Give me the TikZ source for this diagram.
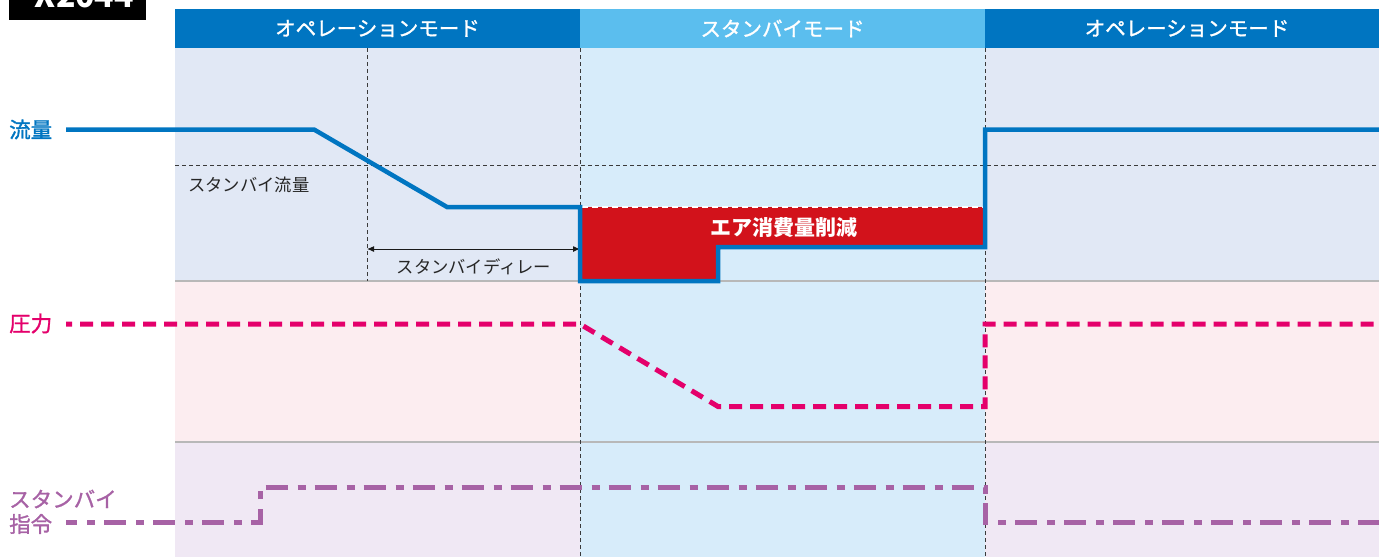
\documentclass[tikz,border=0pt]{standalone}
\usepackage{fontspec}
\setmainfont{Noto Sans CJK JP}
\newfontfamily\medfont[FakeBold=1.3]{Noto Sans CJK JP}
\usetikzlibrary{arrows.meta}
\definecolor{opblue}{HTML}{0075C1}
\definecolor{sbblue}{HTML}{5BBEEE}
\definecolor{flowbg}{HTML}{E1E8F5}
\definecolor{sbbg}{HTML}{D7ECFA}
\definecolor{presbg}{HTML}{FCEDF0}
\definecolor{cmdbg}{HTML}{F0E8F4}
\definecolor{cutred}{HTML}{D2121B}
\definecolor{prespink}{HTML}{E4006B}
\definecolor{cmdpurple}{HTML}{A762A5}
\definecolor{sepgrey}{HTML}{B8B8B8}
\definecolor{guidegrey}{HTML}{3A3A3A}
\begin{document}
\begin{tikzpicture}[x=1pt,y=-1pt,
  hdr/.style={text=white,font=\medfont\fontsize{20.5}{23}\selectfont,inner sep=0pt},
  lbl/.style={font=\medfont\fontsize{21.5}{25}\selectfont,inner sep=0pt,anchor=west},
  small/.style={text=black!85,font=\fontsize{17.3}{20}\selectfont,inner sep=0pt},
  guide/.style={guidegrey,line width=1pt,dash pattern=on 4pt off 3pt},
  sep/.style={sepgrey,line width=1.4pt},
  flowline/.style={opblue,line width=4.5pt,line join=miter},
  presline/.style={prespink,line width=5pt,dash pattern=on 13pt off 8pt,dash phase=7pt},
  cmdline/.style={cmdpurple,line width=5pt,dash pattern=on 22pt off 10pt on 8pt off 9pt,dash phase=11pt}
]
\useasboundingbox (0,0) rectangle (1379,557);
\clip (0,0) rectangle (1379,557);
% title tab (cut off at top)
\fill[black] (9,-10) rectangle (146,20);
\node[anchor=base,text=white,font=\bfseries\fontsize{32}{32}\selectfont,inner sep=0pt] (tab) at (79,7) {-X2044};
% backgrounds
\fill[flowbg] (175,48) rectangle (580,281);
\fill[flowbg] (985,48) rectangle (1379,281);
\fill[presbg] (175,281) rectangle (580,442);
\fill[presbg] (985,281) rectangle (1379,442);
\fill[cmdbg] (175,442) rectangle (580,557);
\fill[cmdbg] (985,442) rectangle (1379,557);
\fill[sbbg] (580,48) rectangle (985,557);
% header
\fill[opblue] (175,9) rectangle (580,48);
\fill[sbblue] (580,9) rectangle (985,48);
\fill[opblue] (985,9) rectangle (1379,48);
\node[hdr] (h1) at (377.5,28.5) {オペレーションモード};
\node[hdr] (h2) at (782.5,28.5) {スタンバイモード};
\node[hdr] (h3) at (1187,28.5) {オペレーションモード};
% separators
\draw[sep] (175,281) -- (1379,281);
\draw[sep] (175,442) -- (1379,442);
% guides
\coordinate (dT) at (367,48);
\coordinate (dB) at (367,281);
\coordinate (sT) at (580,48);
\coordinate (sB) at (580,557);
\coordinate (eT) at (985,48);
\coordinate (eB) at (985,557);
\draw[guide] (dT) -- (dB);
\draw[guide] (sT) -- (sB);
\draw[guide] (eT) -- (eB);
\draw[guide] (175,165) -- (1379,165);
\node[small,anchor=west] (sbflow) at (188,185) {スタンバイ流量};
% standby delay arrow
\coordinate (aL) at (367,249);
\coordinate (aR) at (580,249);
\draw[black!90,line width=1pt,{Latex[length=7pt,width=6pt]}-{Latex[length=7pt,width=6pt]}] (aL) -- (aR);
\node[small] (delay) at (474,267) {スタンバイディレー};
% air consumption reduction
\fill[cutred] (580,207) -- (985,207) -- (985,247) -- (718,247) -- (718,281) -- (580,281) -- cycle;
\draw[white,line width=2pt,dash pattern=on 6pt off 4pt] (582,207) -- (983,207);
\node[text=white,font=\bfseries\fontsize{21}{24}\selectfont,inner sep=0pt] (cut) at (783.5,228) {エア消費量削減};
% flow line
\node[lbl,text=opblue] (lflow) at (9,129.5) {流量};
\draw[flowline] (66,129.5) -- (314,129.5) -- (447,207) -- (580,207) -- (580,281) -- (718,281) -- (718,247) -- (985,247) -- (985,129.5) -- (1379,129.5);
% pressure line
\node[lbl,text=prespink] (lpres) at (9,323.5) {圧力};
\draw[presline] (66,324) -- (580,324) -- (718,406.5) -- (985,406.5) -- (985,324) -- (1379,324);
% standby command line
\node[lbl,text=cmdpurple] (lcmd1) at (9,499) {スタンバイ};
\node[lbl,text=cmdpurple] (lcmd2) at (9,524) {指令};
\draw[cmdline] (66,522) -- (260,522) -- (260,487.5) -- (985,487.5) -- (985,522) -- (1379,522);
\end{tikzpicture}
\end{document}
